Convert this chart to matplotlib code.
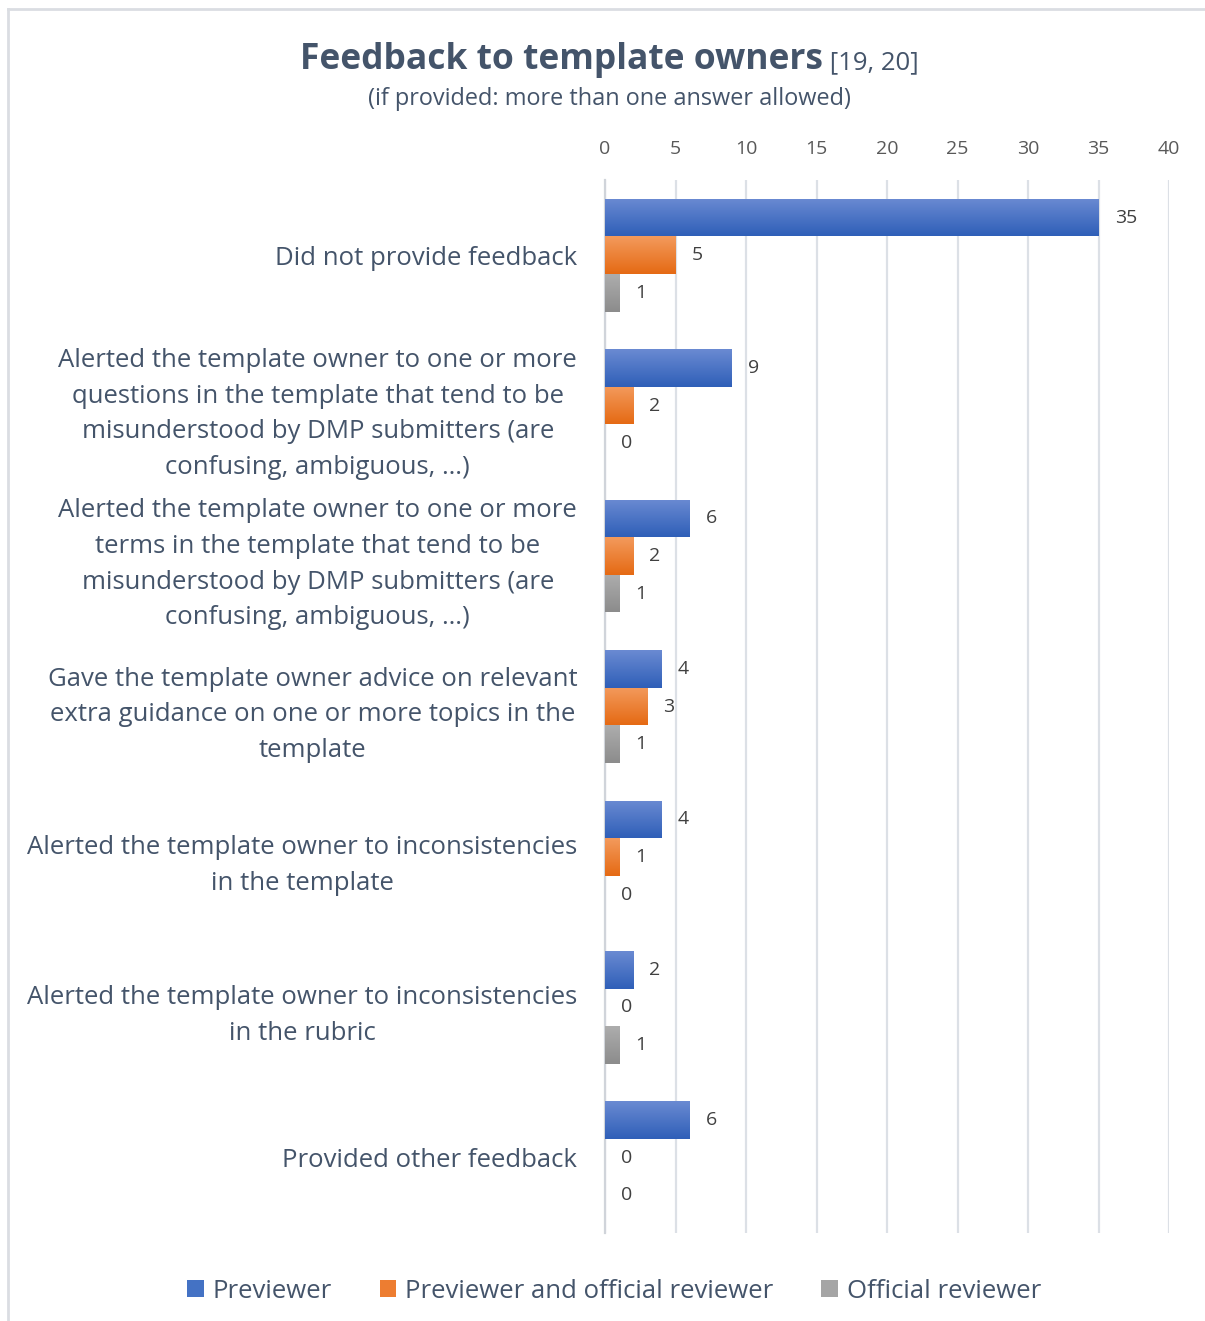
import matplotlib
matplotlib.use("Agg")
import matplotlib.pyplot as plt
import numpy as np
from matplotlib.colors import LinearSegmentedColormap
from matplotlib.patches import Patch

categories = [
    "Did not provide feedback",
    "Alerted the template owner to one or more\nquestions in the template that tend to be\nmisunderstood by DMP submitters (are\nconfusing, ambiguous, …)",
    "Alerted the template owner to one or more\nterms in the template that tend to be\nmisunderstood by DMP submitters (are\nconfusing, ambiguous, …)",
    "Gave the template owner advice on relevant\nextra guidance on one or more topics in the\ntemplate",
    "Alerted the template owner to inconsistencies\nin the template",
    "Alerted the template owner to inconsistencies\nin the rubric",
    "Provided other feedback",
]
series_names = ["Previewer", "Previewer and official reviewer", "Official reviewer"]
previewer = [35, 9, 6, 4, 4, 2, 6]
prev_and_official = [5, 2, 2, 3, 1, 0, 0]
official = [1, 0, 1, 1, 0, 1, 0]
xticks = [0, 5, 10, 15, 20, 25, 30, 35, 40]

FONT = "Open Sans"
TXT = "#44546A"
colors_top = ["#6A8AD2", "#F39A5C", "#ADADAD"]
colors_bot = ["#2F5FB8", "#E56A14", "#8C8C8C"]
colors_mid = ["#4472C4", "#ED7D31", "#A5A5A5"]

W, H = 1205, 1321
fig = plt.figure(figsize=(W / 100, H / 100), dpi=100)
fig.patch.set_facecolor("white")

# border
fig.add_artist(plt.Line2D([8 / W, 8 / W], [0, 1 - 9 / H], color="#DADDE2", lw=2, transform=fig.transFigure))
fig.add_artist(plt.Line2D([8 / W, 1], [1 - 9 / H, 1 - 9 / H], color="#DADDE2", lw=2, transform=fig.transFigure))

ax = fig.add_axes([605 / W, 1 - 1233 / H, (1169 - 605) / W, (1233 - 180) / H])
n = len(categories)
y = np.arange(n)
bh = 0.25
data = [previewer, prev_and_official, official]
offsets = [-bh, 0, bh]

for si, (vals, off) in enumerate(zip(data, offsets)):
    cmap = LinearSegmentedColormap.from_list("g%d" % si, [colors_top[si], colors_bot[si]])
    bars = ax.barh(y + off, vals, height=bh, color=colors_mid[si], label=series_names[si], zorder=2)
    for b, v in zip(bars, vals):
        if v > 0:
            x0, yb = b.get_x(), b.get_y()
            w, h = b.get_width(), b.get_height()
            im = ax.imshow(np.linspace(0, 1, 64).reshape(-1, 1), cmap=cmap, aspect="auto",
                           extent=[x0, x0 + w, yb + h, yb], zorder=3, interpolation="bilinear")
            im.set_clip_path(b)
        ax.text(v + 1.15, b.get_y() + b.get_height() / 2, str(v), va="center", ha="left",
                fontsize=14, color="#404040", family=FONT, zorder=4)

ax.set_xlim(0, 40)
ax.set_ylim(n - 0.5, -0.5)
ax.set_xticks(xticks)
ax.xaxis.tick_top()
ax.tick_params(axis="x", length=0, labelsize=14, labelcolor="#595959", pad=15.5)
for lab in ax.get_xticklabels():
    lab.set_family(FONT)
ax.grid(axis="x", color="#DCE0E6", lw=1.6, zorder=0)
ax.set_axisbelow(True)
ax.set_yticks(y)
ax.set_yticklabels(categories, fontsize=18.5, color=TXT, family=FONT, linespacing=1.56,
                   multialignment="center")
ax.tick_params(axis="y", length=0, pad=20)
for s in ax.spines.values():
    s.set_visible(False)
ax.spines["left"].set_visible(True)
ax.spines["left"].set_color("#D0D4DA")
ax.spines["left"].set_linewidth(1.6)

# title
fig.canvas.draw()
r = fig.canvas.get_renderer()
t1 = fig.text(0.5, 1 - 60 / H, "Feedback to template owners", fontsize=25.5, fontweight="bold",
              color=TXT, family=FONT, ha="left", va="center")
t2 = fig.text(0.5, 1 - 63 / H, " [19, 20]", fontsize=18.5, color=TXT, family=FONT, ha="left", va="center")
w1 = t1.get_window_extent(r).width
w2 = t2.get_window_extent(r).width
start = 609 - (w1 + w2) / 2
t1.set_x(start / W)
t2.set_x((start + w1) / W)
fig.text(609 / W, 1 - 99 / H, "(if provided: more than one answer allowed)", fontsize=16.9,
         color=TXT, family=FONT, ha="center", va="center")

handles = [Patch(facecolor=c) for c in colors_mid]
leg = fig.legend(handles, series_names, loc="center", bbox_to_anchor=(614 / W, 1 - 1291 / H), ncol=3,
                 frameon=False, prop={"family": FONT, "size": 18.5}, handlelength=0.65, handleheight=0.65,
                 handletextpad=0.35, columnspacing=1.85, labelcolor=TXT)

fig.savefig("out.png", dpi=100, facecolor="white")
